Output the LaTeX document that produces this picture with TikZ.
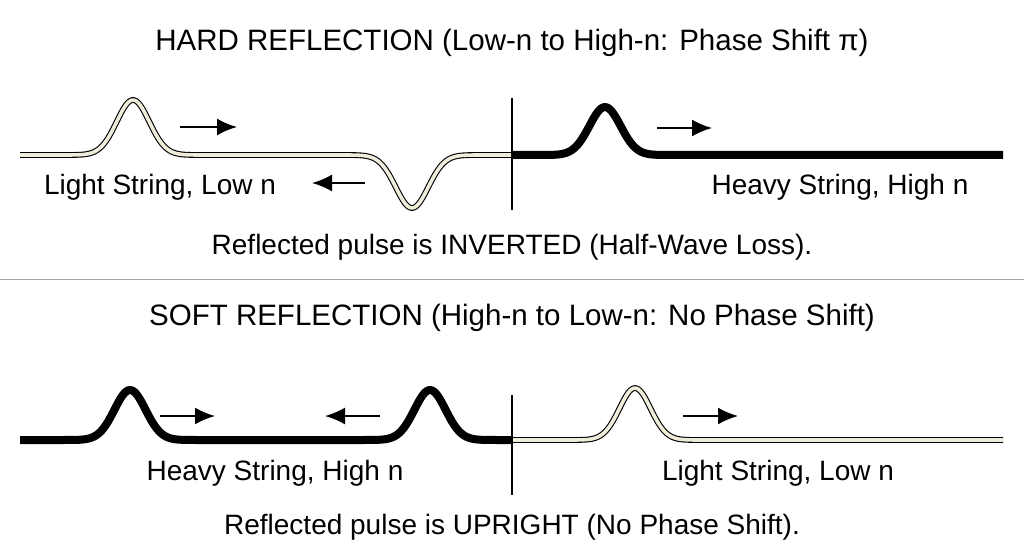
\documentclass[tikz,border=0pt]{standalone}
\usepackage{fontspec}
\setmainfont{Liberation Sans}
\usetikzlibrary{arrows.meta}
\begin{document}
\begin{tikzpicture}[x=1pt,y=-1pt,
  light/.style={draw=black,line width=1.1pt,double={rgb,255:red,240;green,236;blue,218},double distance=3.6pt,line join=round},
  heavy/.style={draw=black,line width=8pt,line join=round},
  mv/.style={-{Latex[length=20pt,width=17pt]},line width=2pt},
  txt/.style={font=\fontsize{28}{32}\selectfont,inner sep=0pt},
  ttl/.style={font=\fontsize{29.5}{34}\selectfont,inner sep=0pt},
  wall/.style={line width=1.6pt}]
\useasboundingbox (0,0) rectangle (1024,559);
% titles
\node[ttl] (t1) at (512,43) {HARD REFLECTION (Low-n to High-n: Phase Shift π)};
\node[ttl] (t2) at (512,318) {SOFT REFLECTION (High-n to Low-n: No Phase Shift)};
\draw[gray!70,line width=1pt] (0,279) -- (1024,279);
% top
\draw[heavy] plot[domain=512:1003,samples=200] (\x,{155-48*exp(-((\x-605)/22)^2)});
\draw[light] plot[domain=20:512,samples=260] (\x,{155-55*exp(-((\x-133)/23)^2)+53*exp(-((\x-412)/23)^2)});
\draw[wall] (512,98) -- (512,210);
\draw[mv] (180,127) -- (237,127);
\draw[mv] (365,183) -- (312,183);
\draw[mv] (657,128) -- (712,128);
\node[txt] (l1) at (160,187) {Light String, Low n};
\node[txt] (h1) at (840,187) {Heavy String, High n};
\node[txt] (c1) at (512,247) {Reflected pulse is INVERTED (Half-Wave Loss).};
% bottom
\draw[heavy] plot[domain=20:512,samples=260] (\x,{440-50*exp(-((\x-130)/22)^2)-50*exp(-((\x-430)/22)^2)});
\draw[light] plot[domain=512:1003,samples=200] (\x,{440-52*exp(-((\x-635)/22)^2)});
\draw[wall] (512,395) -- (512,495);
\draw[mv] (160,416) -- (215,416);
\draw[mv] (380,416) -- (325,416);
\draw[mv] (683,416) -- (738,416);
\node[txt] (h2) at (275,473) {Heavy String, High n};
\node[txt] (l2) at (778,473) {Light String, Low n};
\node[txt] (c2) at (512,527) {Reflected pulse is UPRIGHT (No Phase Shift).};
\end{tikzpicture}
\end{document}
